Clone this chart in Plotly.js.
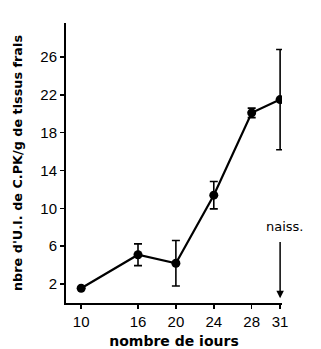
<!DOCTYPE html>
<html><head><meta charset="utf-8">
<script src="https://cdn.plot.ly/plotly-3.0.1.min.js"></script>
<style>body{margin:0;background:#fff}#c{width:321px;height:349px}</style>
</head><body><div id="c"></div>
<script>
const days = [10, 16, 20, 24, 28, 31];
const cpk = [1.56, 5.1, 4.2, 11.4, 20.1, 21.5];
const errs = [0, 1.15, 2.4, 1.45, 0.5, 5.3];
const xTicks = [10, 16, 20, 24, 28, 31];
const yTicks = [2, 6, 10, 14, 18, 22, 26];

const trace = {
  x: days, y: cpk, type: 'scatter', mode: 'lines+markers',
  line: {color: '#000', width: 2.2},
  marker: {color: '#000', size: 9},
  error_y: {type: 'data', array: errs, visible: true, color: '#000', thickness: 1.6, width: 4},
  showlegend: false
};
const font = {family: 'Liberation Sans, Arial, sans-serif', color: '#000'};
const tfont = 'DejaVu Sans, sans-serif';
const layout = {
  width: 321, height: 349,
  margin: {l: 66, r: 39, t: 23, b: 46},
  paper_bgcolor: '#fff', plot_bgcolor: '#fff',
  font: font,
  xaxis: {
    range: [8.4, 31.2], tickvals: xTicks, ticktext: xTicks.map(String),
    showgrid: false, zeroline: false, showline: true, linecolor: '#000', linewidth: 2,
    ticks: 'outside', ticklen: 4, tickwidth: 1.5, tickcolor: '#000',
    tickfont: {size: 15, family: font.family},
    title: {text: 'nombre de iours', font: {size: 14, family: tfont, weight: 'bold'}, standoff: 7}
  },
  yaxis: {
    range: [0, 29.6], tickvals: yTicks, ticktext: yTicks.map(String),
    showgrid: false, zeroline: false, showline: true, linecolor: '#000', linewidth: 2,
    ticks: 'outside', ticklen: 4, tickwidth: 1.5, tickcolor: '#000',
    tickfont: {size: 15, family: font.family},
    title: {text: "nbre d'U.I. de C.PK/g de tissus frais", font: {size: 12.8, family: tfont, weight: 'bold'}, standoff: 15}
  },
  annotations: [{
    x: 31, y: 0.5, ax: 31, ay: 6.6, xref: 'x', yref: 'y', axref: 'x', ayref: 'y',
    showarrow: true, arrowhead: 2, arrowsize: 1, arrowwidth: 1.5, arrowcolor: '#000', text: ''
  }, {
    x: 31, y: 8.1, xref: 'x', yref: 'y', text: 'naiss.', showarrow: false, xshift: 5,
    font: {size: 13, family: tfont}
  }]
};
Plotly.newPlot('c', [trace], layout, {displayModeBar: false, staticPlot: true});
</script></body></html>
